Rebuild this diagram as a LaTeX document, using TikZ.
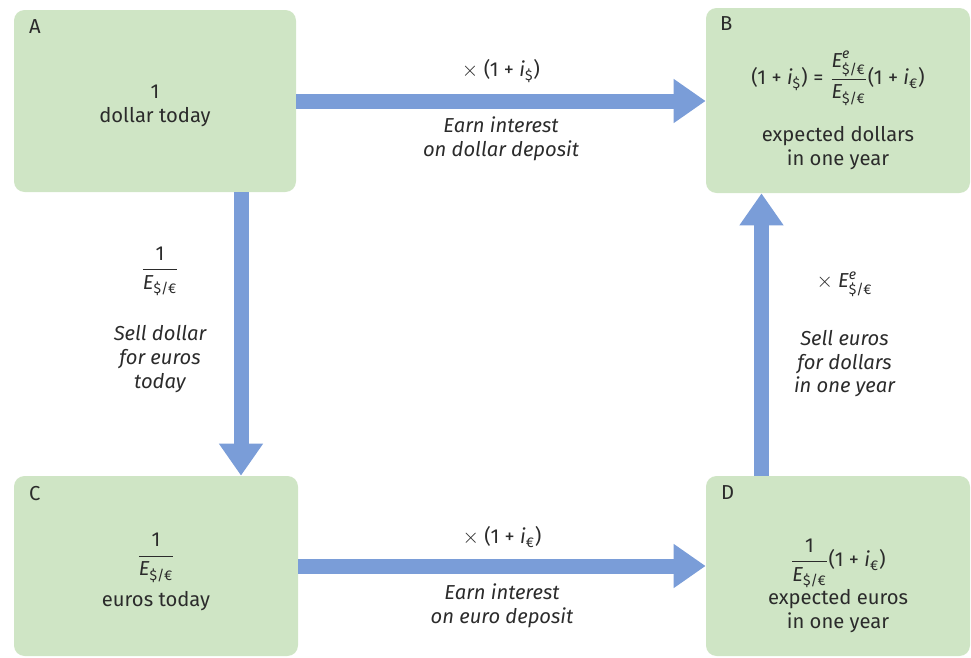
\documentclass[tikz,border=0pt]{standalone}
\usepackage{amsmath}
\usepackage{fontspec}
\setmainfont{Fira Sans}
\usetikzlibrary{arrows.meta}

\definecolor{boxgreen}{HTML}{CFE5C5}
\definecolor{flowblue}{HTML}{7A9DD8}
\definecolor{inkgray}{HTML}{2B2B2B}

% exchange rates and interest factors, set in the text font
\newcommand{\Ed}{\text{\textit{E}}_{\text{\upshape\$/€}}}
\newcommand{\Ee}{\text{\textit{E}}^{\text{\textit{e}}}_{\text{\upshape\$/€}}}
\newcommand{\ip}[1]{\text{(1 + \textit{i}}_{\text{#1}}\text{)}}
\newcommand{\one}{\text{\upshape 1}}

\begin{document}
\begin{tikzpicture}[font=\fontsize{11.5}{13.5}\selectfont, text=inkgray,
  panel/.style={rectangle, rounded corners=6pt, fill=boxgreen, inner sep=0pt},
  tag/.style={anchor=north west, inner sep=0pt},
  body/.style={align=center},
  flow/.style={draw=flowblue, line width=0.3cm, -{Triangle[width=0.84cm, length=0.64cm]}},
  note/.style={align=center, font=\fontsize{11.5}{13.5}\selectfont\itshape}]
\useasboundingbox (0,0) rectangle (19.42,-13.16);

% the four positions
\node [panel, minimum width=5.64cm, minimum height=3.64cm] (A) at (3.10,-2.02) {};
\node [panel, minimum width=5.28cm, minimum height=3.70cm] (B) at (16.76,-2.01) {};
\node [panel, minimum width=5.68cm, minimum height=3.60cm] (C) at (3.12,-11.32) {};
\node [panel, minimum width=5.28cm, minimum height=3.60cm] (D) at (16.76,-11.32) {};

\node [tag] (tA) at ([xshift=0.3cm, yshift=-0.2cm]A.north west) {A};
\node [tag] (tB) at ([xshift=0.28cm, yshift=-0.18cm]B.north west) {B};
\node [tag] (tC) at ([xshift=0.3cm, yshift=-0.2cm]C.north west) {C};
\node [tag] (tD) at ([xshift=0.3cm, yshift=-0.2cm]D.north west) {D};

\node [body] (bA) at ([yshift=-0.1cm]A.center) {1\\ dollar today};
\node [body] (bB) at ([yshift=-0.2cm]B.center)
  {$\ip{\$} \mathrel{\text{=}} \dfrac{\Ee}{\Ed}\ip{€}$\\[11pt] expected dollars\\ in one year};
\node [body] (bC) at ([yshift=-0.12cm]C.center) {$\dfrac{\one}{\Ed}$\\[4pt] euros today};
\node [body] (bD) at ([yshift=-0.4cm]D.center)
  {$\dfrac{\one}{\Ed}\ip{€}$\\[0pt] expected euros\\ in one year};

% the two routes
\draw [flow] (A.east) -- (A.east -| B.west)
  node [midway, yshift=0.6cm] (mAB) {$\times\ \ip{\$}$}
  node [midway, yshift=-0.76cm, note] (nAB) {Earn interest\\ on dollar deposit};
\draw [flow] ([xshift=1.72cm]A.south) -- ([xshift=1.72cm]A.south |- C.north)
  node [pos=0.45, xshift=-1.62cm, note] (nAC) {$\dfrac{\one}{\Ed}$\\[16pt] Sell dollar\\ for euros\\ today};
\draw [flow] (C.east) -- (C.east -| D.west)
  node [midway, yshift=0.58cm] (mCD) {$\times\ \ip{€}$}
  node [midway, yshift=-0.8cm, note] (nCD) {Earn interest\\ on euro deposit};
\draw [flow] ([xshift=-1.53cm]D.north) -- ([xshift=-1.53cm]D.north |- B.south)
  node [pos=0.5, xshift=1.66cm, note] (nDB) {$\times\ \Ee$\\[18pt] Sell euros\\ for dollars\\ in one year};
\end{tikzpicture}
\end{document}
